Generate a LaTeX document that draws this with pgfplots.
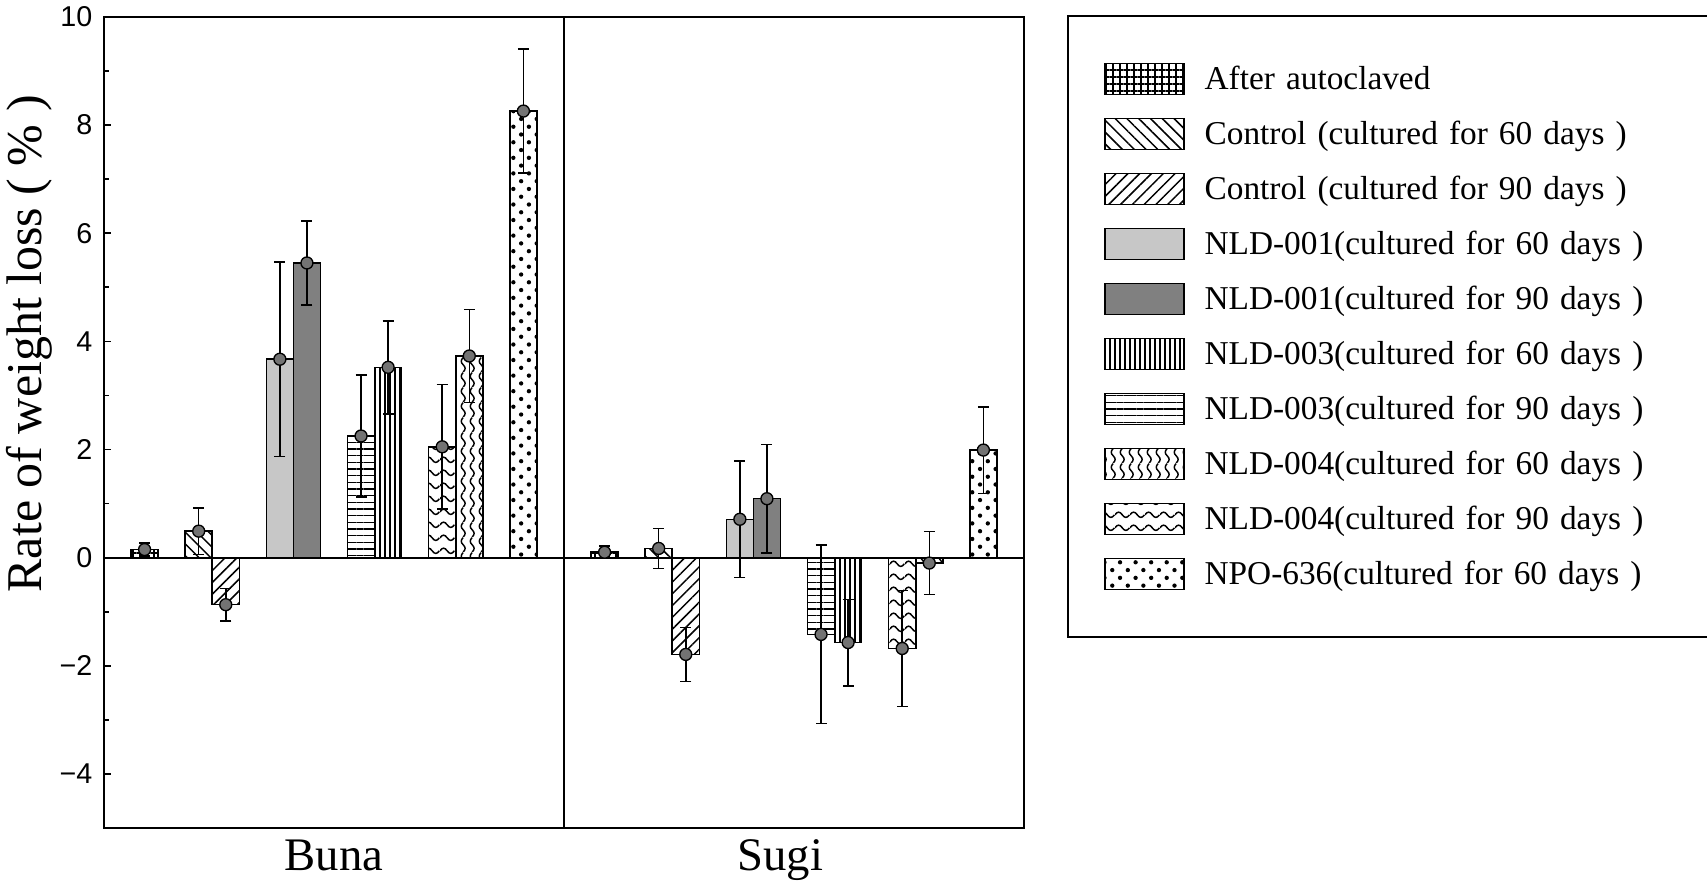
\documentclass[border=0pt]{standalone}
\usepackage{fontspec}
\setmainfont{Liberation Serif}
\setsansfont{Liberation Sans}
\usepackage{pgfplots}
\pgfplotsset{compat=1.18}
\usepackage{pgfplotstable}
\usetikzlibrary{patterns,patterns.meta}

% horizontal and vertical wave fills
\pgfdeclarepatternformonly{hwaves}{\pgfqpoint{0pt}{0pt}}{\pgfqpoint{4.4pt}{3.8pt}}{\pgfqpoint{4.4pt}{3.8pt}}{%
  \pgfsetlinewidth{0.45pt}%
  \pgfpathmoveto{\pgfqpoint{0pt}{1.9pt}}%
  \pgfpathcurveto{\pgfqpoint{0.73pt}{2.97pt}}{\pgfqpoint{1.47pt}{2.97pt}}{\pgfqpoint{2.2pt}{1.9pt}}%
  \pgfpathcurveto{\pgfqpoint{2.93pt}{0.83pt}}{\pgfqpoint{3.67pt}{0.83pt}}{\pgfqpoint{4.4pt}{1.9pt}}%
  \pgfusepath{stroke}}
\pgfdeclarepatternformonly{vwaves}{\pgfqpoint{0pt}{0pt}}{\pgfqpoint{2.6pt}{4.4pt}}{\pgfqpoint{2.6pt}{4.4pt}}{%
  \pgfsetlinewidth{0.45pt}%
  \pgfpathmoveto{\pgfqpoint{1.3pt}{0pt}}%
  \pgfpathcurveto{\pgfqpoint{2.1pt}{0.73pt}}{\pgfqpoint{2.1pt}{1.47pt}}{\pgfqpoint{1.3pt}{2.2pt}}%
  \pgfpathcurveto{\pgfqpoint{0.5pt}{2.93pt}}{\pgfqpoint{0.5pt}{3.67pt}}{\pgfqpoint{1.3pt}{4.4pt}}%
  \pgfusepath{stroke}}

% mean rate of weight loss and its error, Buna at 1.5..15.5, Sugi at 18.5..32.5
\pgfplotstableread{
x     y      e
1.5   0.15   0.12
3.5   0.49   0.43
4.5  -0.87   0.30
6.5   3.67   1.80
7.5   5.45   0.78
9.5   2.25   1.13
10.5  3.52   0.86
12.5  2.05   1.15
13.5  3.73   0.86
15.5  8.26   1.15
18.5  0.10   0.12
20.5  0.17   0.37
21.5 -1.79   0.50
23.5  0.71   1.08
24.5  1.09   1.00
26.5 -1.42   1.65
27.5 -1.57   0.80
29.5 -1.68   1.07
30.5 -0.10   0.58
32.5  1.99   0.80
}\means

\pgfplotsset{
  barbase/.style={ybar, bar width=1, bar shift=0pt, draw=black, line width=0.45pt,
    legend image code/.code={\draw[##1, line width=0.5pt] (0pt,-4.65pt) rectangle (23.7pt,4.65pt);}},
}

\begin{document}
\begin{tikzpicture}
\path[use as bounding box] (0,0) rectangle (512.1pt,266.7pt);
\begin{axis}[
  at={(31.2pt,18.3pt)}, anchor=south west,
  scale only axis, width=276pt, height=243.3pt,
  xmin=0, xmax=34, ymin=-5, ymax=10,
  axis line style={line width=0.6pt},
  xtick={8.5,25}, xticklabels={Buna,Sugi},
  xtick style={draw=none},
  xticklabel style={font=\fontsize{14}{14}\selectfont},
  ytick={-4,-2,...,10},
  yticklabels={−4,−2,0,2,4,6,8,10},
  yticklabel style={font=\sffamily\fontsize{8.6}{8.6}\selectfont},
  minor y tick num=1,
  ytick pos=left, tick align=inside,
  major tick length=2.2pt, minor tick length=1.6pt,
  tick style={line width=0.5pt, black},
  extra y ticks={0}, extra y tick labels={},
  extra y tick style={grid=major, major grid style={black, line width=0.6pt}, major tick length=0pt},
  extra x ticks={17}, extra x tick labels={},
  extra x tick style={grid=major, major grid style={black, line width=0.6pt}, major tick length=0pt},
  ylabel={Rate of weight loss ( \% )},
  ylabel style={at={([xshift=-22.5pt]rel axis cs:0,0.597)}, anchor=center, font=\fontsize{15}{15}\selectfont},
  legend style={at={(1.0467,1.0025)}, anchor=north west, draw=black, line width=0.6pt,
    inner xsep=10.8pt, inner ysep=14pt, row sep=6.7pt, font=\fontsize{10}{10}\selectfont,
    nodes={inner sep=0pt, text width=150pt, align=left, text height=8pt, text depth=1.5pt},
    /tikz/every odd column/.append style={column sep=6pt}},
  legend cell align=left,
]
\addplot[barbase, pattern={Hatch[distance=2.1pt, line width=0.35pt]}] coordinates {(1.5,0.15) (18.5,0.10)};
\addlegendentry{After autoclaved}
\addplot[barbase, pattern={Lines[angle=-45, distance=2.5pt, line width=0.45pt]}] coordinates {(3.5,0.49) (20.5,0.17)};
\addlegendentry{Control (cultured for 60 days )}
\addplot[barbase, pattern={Lines[angle=45, distance=2.5pt, line width=0.45pt]}] coordinates {(4.5,-0.87) (21.5,-1.79)};
\addlegendentry{Control (cultured for 90 days )}
\addplot[barbase, fill=black!22] coordinates {(6.5,3.67) (23.5,0.71)};
\addlegendentry{NLD-001(cultured for 60 days )}
\addplot[barbase, fill=black!50] coordinates {(7.5,5.45) (24.5,1.09)};
\addlegendentry{NLD-001(cultured for 90 days )}
\addplot[barbase, pattern={Lines[angle=90, distance=1.5pt, line width=0.4pt]}] coordinates {(10.5,3.52) (27.5,-1.57)};
\addlegendentry{NLD-003(cultured for 60 days )}
\addplot[barbase, pattern={Lines[angle=0, distance=2pt, line width=0.4pt]}] coordinates {(9.5,2.25) (26.5,-1.42)};
\addlegendentry{NLD-003(cultured for 90 days )}
\addplot[barbase, pattern=vwaves] coordinates {(13.5,3.73) (30.5,-0.10)};
\addlegendentry{NLD-004(cultured for 60 days )}
\addplot[barbase, pattern=hwaves] coordinates {(12.5,2.05) (29.5,-1.68)};
\addlegendentry{NLD-004(cultured for 90 days )}
\addplot[barbase, pattern={Dots[distance=3.3pt, angle=45, radius=0.65pt]}] coordinates {(15.5,8.26) (32.5,1.99)};
\addlegendentry{NPO-636(cultured for 60 days )}

\addplot[forget plot, only marks, black, mark=*, mark size=1.8pt,
  mark options={fill=black!55, draw=black, line width=0.4pt},
  error bars/.cd, y dir=both, y explicit,
  error bar style={line width=0.45pt, black},
  error mark options={rotate=90, mark size=1.65pt, line width=0.45pt, black}]
  table[x=x, y=y, y error=e] {\means};
\end{axis}
\end{tikzpicture}
\end{document}
